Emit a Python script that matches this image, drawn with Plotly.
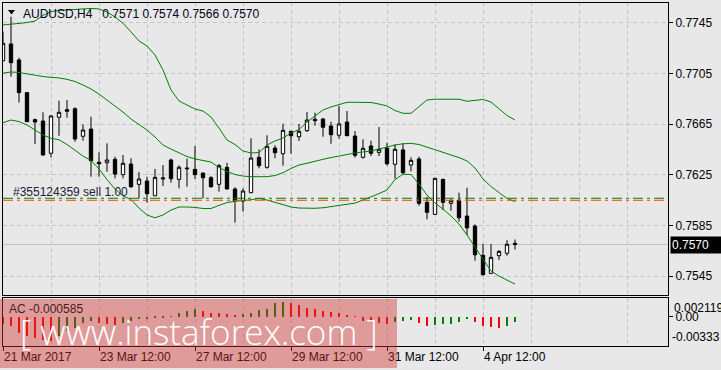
import plotly.graph_objects as go

# ---------------- data ----------------
bar_index = list(range(65))  # H4 bars, 21 Mar 2017 12:00 ... 5 Apr 2017 04:00

opens = [0.77150, 0.77282, 0.77156, 0.76898, 0.76685, 0.76674, 0.76420, 0.76704, 0.76764, 0.76771,
         0.76554, 0.76611, 0.76349, 0.76345, 0.76372, 0.76251, 0.76335, 0.76175, 0.76201, 0.76085,
         0.76217, 0.76367, 0.76214, 0.76304, 0.76293, 0.76264, 0.76227, 0.76175, 0.76309, 0.76138,
         0.76043, 0.76109, 0.76388, 0.76309, 0.76461, 0.76416, 0.76593, 0.76550, 0.76598, 0.76688,
         0.76690, 0.76635, 0.76562, 0.76666, 0.76556, 0.76388, 0.76477, 0.76427, 0.76461, 0.76333,
         0.76446, 0.76327, 0.76375, 0.76033, 0.75938, 0.76214, 0.76025, 0.76049, 0.75925, 0.75846,
         0.75615, 0.75473, 0.75612, 0.75631, 0.75710]
highs = [0.77379, 0.77497, 0.77174, 0.76903, 0.76693, 0.76743, 0.76722, 0.76835, 0.76840, 0.76782,
         0.76648, 0.76708, 0.76427, 0.76498, 0.76393, 0.76406, 0.76380, 0.76272, 0.76235, 0.76296,
         0.76327, 0.76377, 0.76325, 0.76377, 0.76477, 0.76264, 0.76240, 0.76335, 0.76345, 0.76151,
         0.76143, 0.76538, 0.76451, 0.76562, 0.76483, 0.76653, 0.76595, 0.76651, 0.76745, 0.76740,
         0.76698, 0.76669, 0.76793, 0.76753, 0.76595, 0.76530, 0.76519, 0.76627, 0.76503, 0.76491,
         0.76498, 0.76388, 0.76393, 0.76077, 0.76227, 0.76219, 0.76064, 0.76109, 0.76148, 0.75859,
         0.75704, 0.75704, 0.75657, 0.75735, 0.75740]
lows = [0.77145, 0.77024, 0.76819, 0.76666, 0.76493, 0.76401, 0.76388, 0.76558, 0.76700, 0.76511,
        0.76519, 0.76235, 0.76235, 0.76274, 0.76222, 0.76222, 0.76146, 0.76064, 0.76030, 0.76083,
        0.76162, 0.76188, 0.76143, 0.76156, 0.76217, 0.76064, 0.76148, 0.76117, 0.76135, 0.75872,
        0.75959, 0.76104, 0.76301, 0.76298, 0.76380, 0.76322, 0.76416, 0.76517, 0.76588, 0.76637,
        0.76550, 0.76495, 0.76535, 0.76556, 0.76385, 0.76377, 0.76398, 0.76398, 0.76322, 0.76219,
        0.76254, 0.76277, 0.76006, 0.75899, 0.75935, 0.75972, 0.75967, 0.75880, 0.75775, 0.75572,
        0.75454, 0.75467, 0.75578, 0.75612, 0.75660]
closes = [0.77287, 0.77134, 0.76898, 0.76669, 0.76666, 0.76406, 0.76714, 0.76743, 0.76751, 0.76532,
          0.76603, 0.76361, 0.76337, 0.76367, 0.76256, 0.76341, 0.76156, 0.76217, 0.76101, 0.76230,
          0.76225, 0.76219, 0.76309, 0.76298, 0.76251, 0.76227, 0.76156, 0.76322, 0.76138, 0.76046,
          0.76122, 0.76382, 0.76322, 0.76475, 0.76424, 0.76601, 0.76558, 0.76593, 0.76682, 0.76677,
          0.76625, 0.76566, 0.76651, 0.76558, 0.76404, 0.76459, 0.76420, 0.76451, 0.76337, 0.76451,
          0.76266, 0.76364, 0.76025, 0.75954, 0.76222, 0.76033, 0.76046, 0.75911, 0.75832, 0.75619,
          0.75462, 0.75599, 0.75646, 0.75702, 0.75700]

bb_upper = [0.77432, 0.77436, 0.77444, 0.77451, 0.77463, 0.77507, 0.77538, 0.77546, 0.77550, 0.77554,
            0.77558, 0.77562, 0.77558, 0.77534, 0.77495, 0.77445, 0.77377, 0.77306, 0.77266, 0.77195,
            0.77077, 0.76919, 0.76832, 0.76801, 0.76769, 0.76753, 0.76706, 0.76619, 0.76524, 0.76489,
            0.76438, 0.76422, 0.76426, 0.76485, 0.76517, 0.76540, 0.76580, 0.76607, 0.76666, 0.76714,
            0.76761, 0.76785, 0.76801, 0.76822, 0.76822, 0.76822, 0.76820, 0.76808, 0.76793, 0.76757,
            0.76735, 0.76735, 0.76785, 0.76840, 0.76846, 0.76846, 0.76846, 0.76846, 0.76830, 0.76835,
            0.76844, 0.76824, 0.76769, 0.76718, 0.76682]
bb_middle = [0.77051, 0.77061, 0.77057, 0.77045, 0.77033, 0.77025, 0.77019, 0.77014, 0.77003, 0.76986,
             0.76958, 0.76927, 0.76887, 0.76840, 0.76797, 0.76745, 0.76690, 0.76647, 0.76603, 0.76548,
             0.76485, 0.76453, 0.76422, 0.76394, 0.76375, 0.76363, 0.76351, 0.76307, 0.76276, 0.76252,
             0.76240, 0.76235, 0.76235, 0.76235, 0.76244, 0.76266, 0.76300, 0.76327, 0.76341, 0.76359,
             0.76372, 0.76386, 0.76401, 0.76410, 0.76422, 0.76430, 0.76438, 0.76453, 0.76472, 0.76485,
             0.76495, 0.76498, 0.76489, 0.76469, 0.76446, 0.76424, 0.76406, 0.76386, 0.76359, 0.76304,
             0.76217, 0.76158, 0.76110, 0.76064, 0.76038]
bb_lower = [0.76661, 0.76682, 0.76670, 0.76643, 0.76603, 0.76564, 0.76538, 0.76526, 0.76489, 0.76446,
            0.76398, 0.76363, 0.76296, 0.76213, 0.76138, 0.76083, 0.76055, 0.75988, 0.75933, 0.75911,
            0.75933, 0.75972, 0.75996, 0.75996, 0.75993, 0.75984, 0.75984, 0.76009, 0.76031, 0.76041,
            0.76046, 0.76053, 0.76063, 0.76051, 0.76033, 0.76016, 0.75996, 0.75988, 0.75986, 0.75986,
            0.75990, 0.75998, 0.76008, 0.76014, 0.76027, 0.76051, 0.76075, 0.76102, 0.76130, 0.76213,
            0.76254, 0.76252, 0.76177, 0.76090, 0.76027, 0.75980, 0.75925, 0.75862, 0.75775, 0.75680,
            0.75578, 0.75491, 0.75451, 0.75420, 0.75388]

ac_values = [-0.00087, -0.00106, -0.00181, -0.00219, -0.00238, -0.00257, -0.00276, -0.00219, -0.00163, -0.00125,
             -0.00068, -0.00049, -0.00068, -0.00087, -0.00098, -0.00068, -0.00049, -0.00030, -0.00023, -0.00011,
             -0.00004, 0.00008, 0.00038, 0.00064, 0.00083, 0.00064, 0.00045, 0.00038, 0.00030, 0.00023,
             0.00030, 0.00045, 0.00076, 0.00091, 0.00151, 0.00170, 0.00159, 0.00128, 0.00102, 0.00083,
             0.00064, 0.00053, 0.00038, 0.00023, 0.00008, -0.00049, -0.00057, -0.00068, -0.00079, -0.00057,
             -0.00045, -0.00034, -0.00068, -0.00106, -0.00098, -0.00087, -0.00076, -0.00060, -0.00030, -0.00060,
             -0.00106, -0.00113, -0.00125, -0.00100, -0.000585]
ac_max_label = "0.002119"
ac_min_label = "-0.00333"
ac_range = [-0.00333, 0.002119]

time_tick_bars = [0, 12, 24, 36, 48, 60]
time_tick_labels = ["21 Mar 2017", "23 Mar 12:00", "27 Mar 12:00", "29 Mar 12:00", "31 Mar 12:00", "4 Apr 12:00"]
grid_minor_bars = [6, 18, 30, 42, 54, 66, 78]
grid_major_bars = [0, 12, 24, 36, 48, 60, 72]

price_ticks = [0.7545, 0.7585, 0.7625, 0.7665, 0.7705, 0.7745]
price_tick_labels = ["0.7545", "0.7585", "0.7625", "0.7665", "0.7705", "0.7745"]

order_price = 0.76065
stop_price = 0.76049
last_price = 0.7570
order_label = "#355124359 sell 1.00"
title_text = "AUDUSD,H4\u00a0\u00a0 0.7571 0.7574 0.7566 0.7570"
ac_label = "AC -0.000585"
watermark = "[ www.instaforex.com ]"

# ---------------- layout geometry ----------------
W, H = 721, 370
ML, MR, MT, MB = 3, 53, 3, 24
PW, PH = W - ML - MR, H - MT - MB


def px2x(px):
    return (px - ML) / PW


def py2y(py):
    return (H - MB - py) / PH


BG = "#e8e8e8"
GRID = "#c4c4c4"
GREEN = "#008000"
FONT = "Liberation Sans"

fig = go.Figure()

fig.add_trace(go.Candlestick(
    x=bar_index, open=opens, high=highs, low=lows, close=closes,
    increasing=dict(line=dict(color="black", width=1), fillcolor="white"),
    decreasing=dict(line=dict(color="black", width=1), fillcolor="black"),
    whiskerwidth=0, showlegend=False, hoverinfo="skip",
    xaxis="x", yaxis="y"))

for band in (bb_upper, bb_middle, bb_lower):
    fig.add_trace(go.Scatter(x=bar_index, y=band, mode="lines",
                             line=dict(color=GREEN, width=1),
                             showlegend=False, hoverinfo="skip",
                             xaxis="x", yaxis="y"))

ac_colors = []
for i, v in enumerate(ac_values):
    if i > 0 and v > ac_values[i - 1]:
        ac_colors.append("#008000")
    else:
        ac_colors.append("#ff0000")

fig.add_trace(go.Bar(x=bar_index, y=ac_values, marker=dict(color=ac_colors, line=dict(width=0)),
                     width=0.14, showlegend=False, hoverinfo="skip",
                     xaxis="x2", yaxis="y2"))

xr = [0, PW / 8]

fig.update_layout(
    width=W, height=H,
    margin=dict(l=ML, r=MR, t=MT, b=MB),
    paper_bgcolor=BG, plot_bgcolor=BG,
    font=dict(family=FONT, size=12, color="black"),
    boxgap=0.4,
    bargap=0,
    xaxis=dict(domain=[0, 1], range=xr, anchor="y",
               showline=True, mirror=True, linecolor="black", linewidth=1,
               tickmode="array", tickvals=grid_major_bars, showticklabels=False, ticks="",
               showgrid=True, gridcolor=GRID, griddash="4px,3px", gridwidth=1,
               minor=dict(tickvals=grid_minor_bars, showgrid=True, gridcolor=GRID,
                          griddash="4px,3px", gridwidth=1, ticks=""),
               zeroline=False, rangeslider=dict(visible=False), fixedrange=True),
    yaxis=dict(domain=[py2y(295), 1], range=[0.75302, 0.77605], side="right", anchor="x",
               showline=True, mirror=True, linecolor="black", linewidth=1,
               tickmode="array", tickvals=price_ticks, ticktext=price_tick_labels,
               ticks="outside", ticklen=4, tickcolor="black",
               showgrid=True, gridcolor=GRID, griddash="4px,3px", gridwidth=1,
               zeroline=False, fixedrange=True),
    xaxis2=dict(domain=[0, 1], range=xr, anchor="y2", matches="x",
                showline=True, mirror=True, linecolor="black", linewidth=1,
                tickmode="array", tickvals=time_tick_bars, ticktext=time_tick_labels,
                ticks="outside", ticklen=4, tickcolor="black",
                ticklabelposition="outside right",
                showgrid=True, gridcolor=GRID, griddash="4px,3px", gridwidth=1,
                minor=dict(tickvals=grid_minor_bars, showgrid=True, gridcolor=GRID,
                           griddash="4px,3px", gridwidth=1, ticks=""),
                zeroline=False, fixedrange=True),
    yaxis2=dict(domain=[0, py2y(297.7)], range=ac_range, side="right", anchor="x2",
                showline=True, mirror=True, linecolor="black", linewidth=1,
                tickmode="array", tickvals=[0], ticktext=["0.00"],
                ticks="outside", ticklen=4, tickcolor="black",
                showgrid=False, zeroline=False, fixedrange=True),
)

# horizontal order / price lines
fig.add_shape(type="line", xref="x domain", yref="y", x0=0, x1=1, y0=last_price, y1=last_price,
              line=dict(color="#c0c0c0", width=1), layer="below")
fig.add_shape(type="line", xref="x domain", yref="y", x0=0, x1=1, y0=order_price, y1=order_price,
              line=dict(color=GREEN, width=1, dash="10px,4px,3px,4px"))
fig.add_shape(type="line", xref="x domain", yref="y", x0=0, x1=1, y0=stop_price, y1=stop_price,
              line=dict(color="#ff4500", width=1, dash="10px,4px,3px,4px"))

# top-left triangle
fig.add_shape(type="path", xref="paper", yref="paper",
              path="M {} {} L {} {} L {} {} Z".format(px2x(8), py2y(10), px2x(15), py2y(10),
                                                      px2x(11.5), py2y(14.5)),
              fillcolor="black", line=dict(width=0))

# watermark overlay
fig.add_shape(type="rect", xref="paper", yref="paper",
              x0=px2x(0), x1=px2x(397), y0=py2y(299), y1=py2y(368),
              fillcolor="rgba(210,45,45,0.42)", line=dict(width=0), layer="above")

annotations = [
    dict(text=title_text, xref="paper", yref="paper", x=px2x(21), y=py2y(13.5),
         xanchor="left", yanchor="middle", showarrow=False,
         font=dict(family=FONT, size=12, color="#000018")),
    dict(text=order_label, xref="paper", yref="paper", x=px2x(11), y=py2y(192),
         xanchor="left", yanchor="middle", showarrow=False,
         font=dict(family=FONT, size=12, color="#20203a")),
    dict(text="{:.4f}".format(last_price), xref="paper", yref="y",
         x=px2x(670), y=last_price, xanchor="left", yanchor="middle", showarrow=False,
         bgcolor="black", borderpad=1, width=52, align="left",
         font=dict(family=FONT, size=12, color="white")),
    dict(text=ac_max_label, xref="paper", yref="paper", x=px2x(672), y=py2y(298.5),
         xanchor="left", yanchor="top", showarrow=False,
         font=dict(family=FONT, size=12, color="black")),
    dict(text=ac_min_label, xref="paper", yref="paper", x=px2x(670), y=py2y(345.5),
         xanchor="left", yanchor="bottom", showarrow=False,
         font=dict(family=FONT, size=12, color="black")),
    dict(text=ac_label, xref="paper", yref="paper", x=px2x(7), y=py2y(309),
         xanchor="left", yanchor="middle", showarrow=False,
         font=dict(family=FONT, size=12, color="#4a1c1c")),
    dict(text=watermark, xref="paper", yref="paper", x=px2x(199), y=py2y(331),
         xanchor="center", yanchor="middle", showarrow=False,
         font=dict(family="Open Sans", size=35, color="white", weight=300)),
]
fig.update_layout(annotations=annotations)

fig.write_html("out.html", config=dict(displayModeBar=False))
